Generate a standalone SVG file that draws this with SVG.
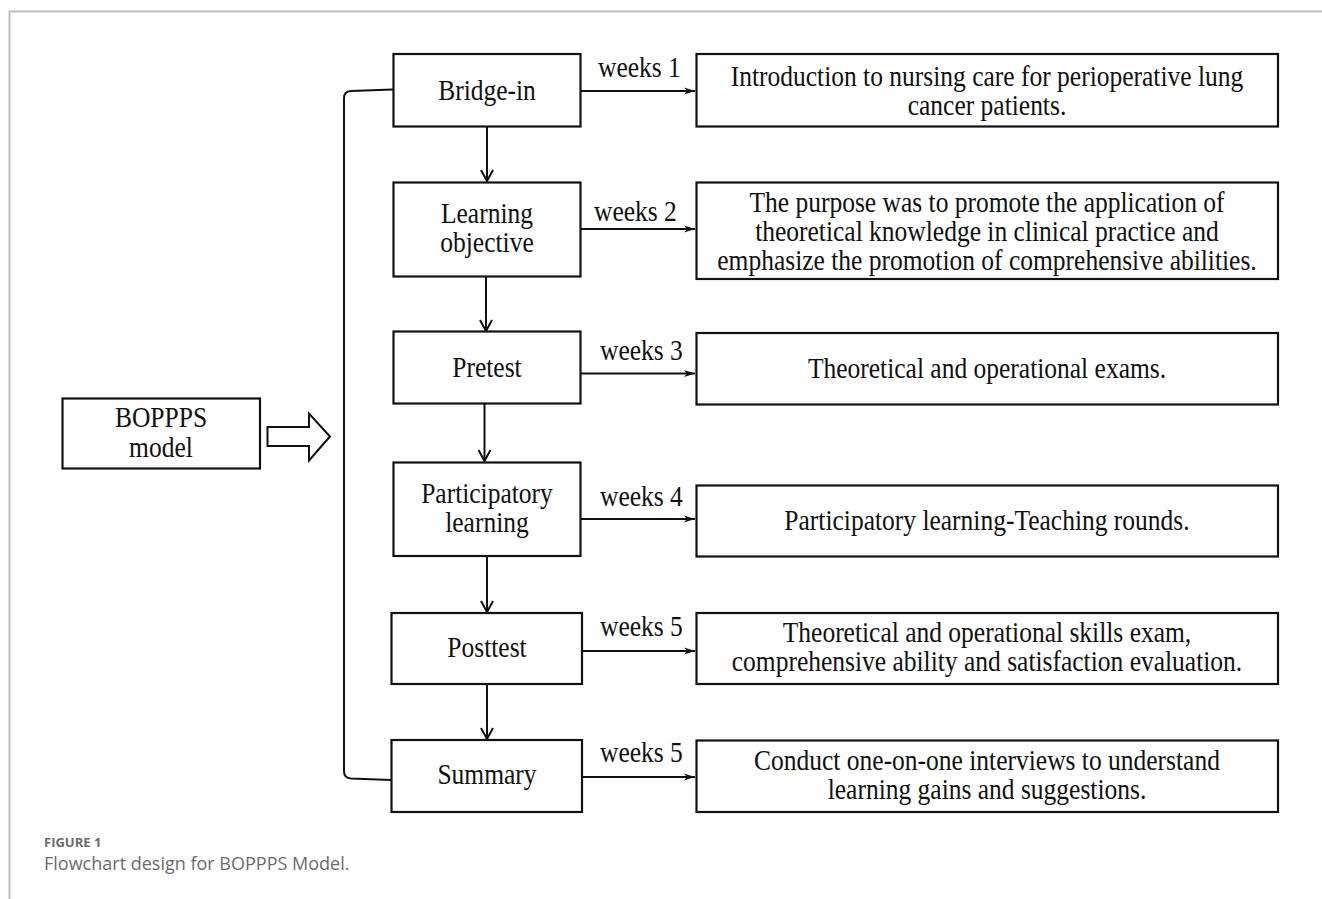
<svg xmlns="http://www.w3.org/2000/svg" width="1322" height="899" viewBox="0 0 1322 899">
<style>
.box{fill:#fff;stroke:#111;stroke-width:2.2}
.t{font-family:"Liberation Serif","Times New Roman",serif;font-size:28.5px;fill:#111;text-anchor:middle}
.w{font-family:"Liberation Serif","Times New Roman",serif;font-size:28.5px;fill:#111}
.ln{fill:none;stroke:#111;stroke-width:2}
.h{fill:none;stroke:#111;stroke-width:1.8}
.cap1{font-family:"Open Sans","Noto Sans",sans-serif;font-size:13px;font-weight:bold;fill:#6b6b6b}
.cap2{font-family:"Open Sans","Noto Sans",sans-serif;font-size:18px;fill:#6b6b6b}
</style>
<defs>
<marker id="ah" markerWidth="12" markerHeight="8" refX="11" refY="4" orient="auto" markerUnits="userSpaceOnUse">
<path d="M0,0.5 L11,4 L0,7.5 L3,4 z" fill="#111"/>
</marker>
<marker id="av" markerWidth="14" markerHeight="14" refX="7" refY="12" orient="0" markerUnits="userSpaceOnUse">
<path d="M1,1 L7,12 L13,1" fill="none" stroke="#111" stroke-width="2"/>
</marker>
</defs>
<rect x="0" y="0" width="1322" height="899" fill="#fff"/>
<path d="M9.5,899 V11.5 H1322" fill="none" stroke="#bbb" stroke-width="2"/>

<g id="connectors">
<path class="ln" d="M393,89.5 L351,91 Q344,91.5 344,98 V771 Q344,778 351,778.5 L391,780"/>
<line class="ln" x1="487" y1="127" x2="487" y2="181" marker-end="url(#av)"/>
<line class="ln" x1="486" y1="277" x2="486" y2="331" marker-end="url(#av)"/>
<line class="ln" x1="484.5" y1="404" x2="484.5" y2="461" marker-end="url(#av)"/>
<line class="ln" x1="487" y1="556" x2="487" y2="612" marker-end="url(#av)"/>
<line class="ln" x1="487" y1="684" x2="487" y2="739" marker-end="url(#av)"/>
<line class="h" x1="581" y1="91" x2="695" y2="91" marker-end="url(#ah)"/>
<line class="h" x1="581" y1="229" x2="695" y2="229" marker-end="url(#ah)"/>
<line class="h" x1="581" y1="373.5" x2="695" y2="373.5" marker-end="url(#ah)"/>
<line class="h" x1="581" y1="519" x2="695" y2="519" marker-end="url(#ah)"/>
<line class="h" x1="583" y1="651" x2="695" y2="651" marker-end="url(#ah)"/>
<line class="h" x1="583" y1="777" x2="695" y2="777" marker-end="url(#ah)"/>
<path d="M267.5,427 H309 V413.5 L330,436.5 L309,460.5 V446 H267.5 Z" fill="#fff" stroke="#111" stroke-width="2"/>
</g>

<g id="boppps">
<rect class="box" x="62.5" y="398.5" width="197.5" height="70"/>
<g transform="translate(161,0) scale(0.895,1) translate(-161,0)">
<text class="t" x="161" y="427">BOPPPS</text>
<text class="t" x="161" y="457">model</text>
</g>
</g>

<g id="bridge-in">
<rect class="box" x="393.5" y="54" width="187" height="72.5"/>
<text class="t" x="487" y="100" transform="translate(487,0) scale(0.895,1) translate(-487,0)">Bridge-in</text>
</g>
<g id="learning-objective">
<rect class="box" x="393.5" y="182.5" width="187" height="94"/>
<g transform="translate(487,0) scale(0.895,1) translate(-487,0)">
<text class="t" x="487" y="223">Learning</text>
<text class="t" x="487" y="252">objective</text>
</g>
</g>
<g id="pretest">
<rect class="box" x="393.5" y="331.5" width="187" height="72"/>
<text class="t" x="487" y="377" transform="translate(487,0) scale(0.895,1) translate(-487,0)">Pretest</text>
</g>
<g id="participatory-learning">
<rect class="box" x="393.5" y="462.5" width="187" height="93.5"/>
<g transform="translate(487,0) scale(0.895,1) translate(-487,0)">
<text class="t" x="487" y="503">Participatory</text>
<text class="t" x="487" y="532">learning</text>
</g>
</g>
<g id="posttest">
<rect class="box" x="391.5" y="613" width="190.5" height="71"/>
<text class="t" x="487" y="657.5" transform="translate(487,0) scale(0.895,1) translate(-487,0)">Posttest</text>
</g>
<g id="summary">
<rect class="box" x="391.5" y="740" width="190.5" height="72"/>
<text class="t" x="487" y="784" transform="translate(487,0) scale(0.895,1) translate(-487,0)">Summary</text>
</g>

<g id="labels">
<text class="w" x="598" y="77" transform="translate(598,0) scale(0.895,1) translate(-598,0)">weeks 1</text>
<text class="w" x="594" y="221" transform="translate(594,0) scale(0.895,1) translate(-594,0)">weeks 2</text>
<text class="w" x="600" y="360" transform="translate(600,0) scale(0.895,1) translate(-600,0)">weeks 3</text>
<text class="w" x="600" y="506" transform="translate(600,0) scale(0.895,1) translate(-600,0)">weeks 4</text>
<text class="w" x="600" y="636" transform="translate(600,0) scale(0.895,1) translate(-600,0)">weeks 5</text>
<text class="w" x="600" y="762" transform="translate(600,0) scale(0.895,1) translate(-600,0)">weeks 5</text>
</g>

<g id="d1">
<rect class="box" x="696.5" y="54" width="581.5" height="72.5"/>
<g transform="translate(987,0) scale(0.895,1) translate(-987,0)">
<text class="t" x="987" y="86">Introduction to nursing care for perioperative lung</text>
<text class="t" x="987" y="115">cancer patients.</text>
</g>
</g>
<g id="d2">
<rect class="box" x="696.5" y="182.5" width="581.5" height="96.5"/>
<g transform="translate(987,0) scale(0.895,1) translate(-987,0)">
<text class="t" x="987" y="212">The purpose was to promote the application of</text>
<text class="t" x="987" y="241">theoretical knowledge in clinical practice and</text>
<text class="t" x="987" y="270">emphasize the promotion of comprehensive abilities.</text>
</g>
</g>
<g id="d3">
<rect class="box" x="696.5" y="333" width="581.5" height="71.5"/>
<text class="t" x="987" y="378.5" transform="translate(987,0) scale(0.895,1) translate(-987,0)">Theoretical and operational exams.</text>
</g>
<g id="d4">
<rect class="box" x="696.5" y="485.5" width="581.5" height="71"/>
<text class="t" x="987" y="530.5" transform="translate(987,0) scale(0.895,1) translate(-987,0)">Participatory learning-Teaching rounds.</text>
</g>
<g id="d5">
<rect class="box" x="696.5" y="613" width="581.5" height="71"/>
<g transform="translate(987,0) scale(0.895,1) translate(-987,0)">
<text class="t" x="987" y="642">Theoretical and operational skills exam,</text>
<text class="t" x="987" y="671">comprehensive ability and satisfaction evaluation.</text>
</g>
</g>
<g id="d6">
<rect class="box" x="696.5" y="740.5" width="581.5" height="71.5"/>
<g transform="translate(987,0) scale(0.895,1) translate(-987,0)">
<text class="t" x="987" y="770">Conduct one-on-one interviews to understand</text>
<text class="t" x="987" y="799">learning gains and suggestions.</text>
</g>
</g>

<g id="caption">
<text class="cap1" x="44" y="847">FIGURE 1</text>
<text class="cap2" x="44" y="870">Flowchart design for BOPPPS Model.</text>
</g>
</svg>
